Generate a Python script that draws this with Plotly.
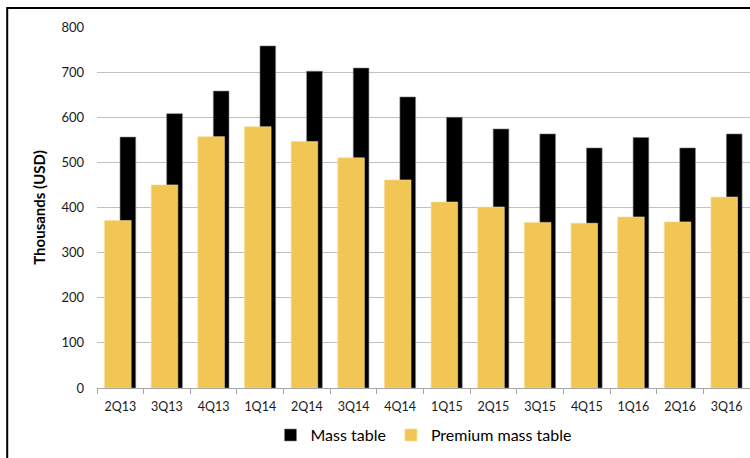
import plotly.graph_objects as go

quarters = ["2Q13", "3Q13", "4Q13", "1Q14", "2Q14", "3Q14", "4Q14",
            "1Q15", "2Q15", "3Q15", "4Q15", "1Q16", "2Q16", "3Q16"]
mass_table = [556, 608, 658, 758, 702, 709, 645, 600, 574, 563, 532, 555, 532, 563]
premium_mass_table = [371, 450, 557, 579, 546, 510, 461, 412, 401, 367, 365, 379, 368, 423]

FONT = "Lato"

fig = go.Figure()
# black bars sit behind and to the right of the yellow ones
fig.add_trace(go.Bar(
    x=quarters, y=mass_table, name="Mass table",
    marker=dict(color="#000000", line=dict(color="#7f7f7f", width=0.6)),
    offset=-0.006, width=0.336,
))
fig.add_trace(go.Bar(
    x=quarters, y=premium_mass_table, name="Premium mass table",
    marker=dict(color="#F2C655", line=dict(color="#F7DC8E", width=0.6)),
    offset=-0.337, width=0.569,
))

fig.update_layout(
    width=750, height=458,
    margin=dict(l=97, r=0, t=27, b=70, autoexpand=False),
    barmode="overlay",
    paper_bgcolor="white", plot_bgcolor="white",
    font=dict(family=FONT, color="#000000"),
    showlegend=True,
    legend=dict(orientation="h", x=0.5, xanchor="center",
                yref="container", y=0.05, yanchor="middle",
                font=dict(size=16, family=FONT, color="#000000"),
                itemwidth=30, traceorder="normal"),
    shapes=[dict(type="rect", xref="paper", yref="paper",
                 x0=-0.1375, x1=1.2, y0=-0.4, y1=1.0526,
                 line=dict(color="#000000", width=2), fillcolor="rgba(0,0,0,0)",
                 layer="above")],
)

fig.update_xaxes(
    type="category", showline=True, linecolor="#A6A6A6", linewidth=1,
    ticks="outside", tickson="boundaries", ticklen=5, tickcolor="#A6A6A6",
    tickfont=dict(size=12.5, family=FONT, color="#1a1a1a"),
    ticklabelstandoff=7, showgrid=False, zeroline=False, automargin=False,
)
fig.update_yaxes(
    range=[0, 800], dtick=100, showgrid=True, gridcolor="#C0C0C0", gridwidth=1,
    zeroline=False, showline=False, ticks="",
    tickfont=dict(size=13, family=FONT, color="#1a1a1a"),
    ticklabelstandoff=12, automargin=False,
    title=dict(text="<b>Thousands (USD)</b>", font=dict(size=15, family=FONT, color="#000000"),
               standoff=12),
)

fig.write_html("out.html")
